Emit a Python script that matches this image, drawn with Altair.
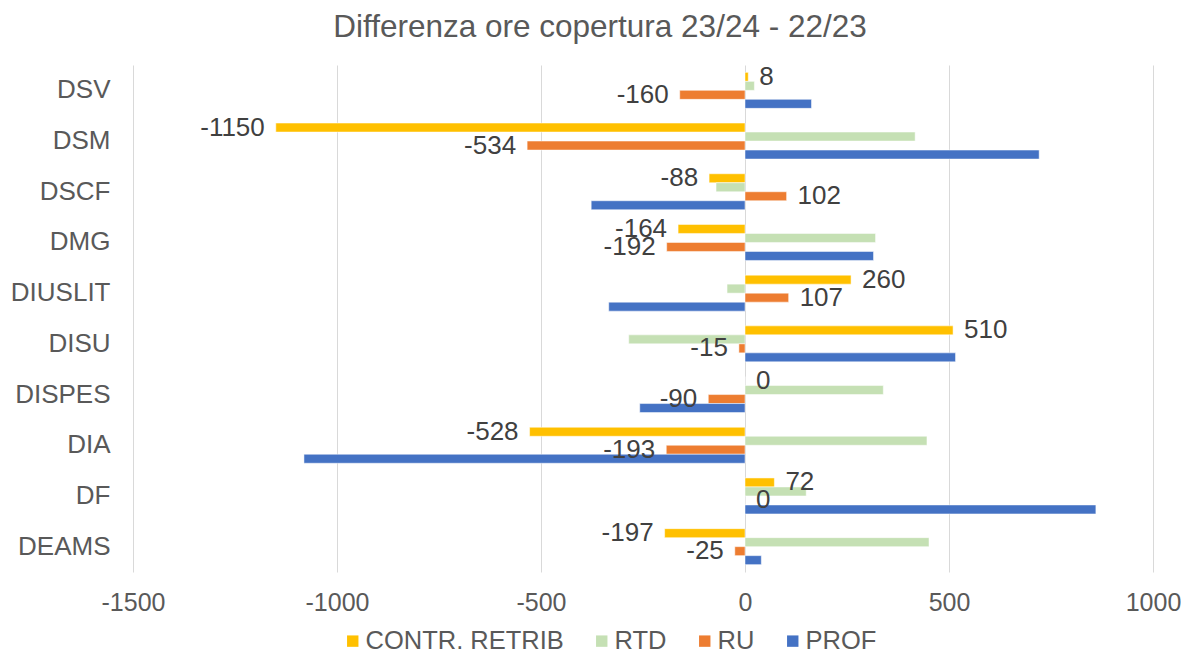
import altair as alt
import pandas as pd

categories = ["DSV", "DSM", "DSCF", "DMG", "DIUSLIT", "DISU", "DISPES", "DIA", "DF", "DEAMS"]
series = ["CONTR. RETRIB", "RTD", "RU", "PROF"]
colors = ["#FFC000", "#C5E0B4", "#ED7D31", "#4472C4"]

contr = [8, -1150, -88, -164, 260, 510, 0, -528, 72, -197]
rtd = [23, 417, -71, 320, -44, -285, 339, 446, 150, 451]
ru = [-160, -534, 102, -192, 107, -15, -90, -193, 0, -25]
prof = [163, 721, -377, 315, -334, 516, -258, -1081, 860, 40]

labelled = ["CONTR. RETRIB", "RU"]
x_ticks = [-1500, -1000, -500, 0, 500, 1000]

rows = []
for s, vals in zip(series, [contr, rtd, ru, prof]):
    for c, v in zip(categories, vals):
        rows.append({"cat": c, "series": s, "value": v, "label": str(v)})
df = pd.DataFrame(rows)

font = "Liberation Sans"
grey = "#595959"

y_enc = alt.Y("cat:N", sort=categories, title=None,
              scale=alt.Scale(paddingInner=0.29, paddingOuter=0.145),
              axis=alt.Axis(domain=False, ticks=False, labelFontSize=26, labelColor=grey,
                            labelFont=font, labelPadding=23, grid=False))
yoff_enc = alt.YOffset("series:N", sort=series, scale=alt.Scale(domain=series, paddingInner=0))
x_enc = alt.X("value:Q", title=None,
              scale=alt.Scale(domain=[-1500, 1000], nice=False, zero=False),
              axis=alt.Axis(values=x_ticks, domain=False, ticks=False, grid=True,
                            gridColor="#D9D9D9", gridWidth=1, labelFontSize=25,
                            labelColor=grey, labelFont=font, labelPadding=18,
                            labelFlush=False, labelExpr="'' + datum.value"))

base = alt.Chart(df)

bars = base.mark_bar(stroke="white", strokeWidth=0.5).encode(
    x=x_enc,
    y=y_enc,
    yOffset=yoff_enc,
    color=alt.Color("series:N", sort=series,
                    scale=alt.Scale(domain=series, range=colors),
                    legend=alt.Legend(title=None, orient="none", direction="horizontal",
                                      legendX=207, legendY=563, symbolType="square",
                                      symbolSize=130, symbolStrokeWidth=0,
                                      labelFontSize=25.5, labelColor=grey, labelFont=font,
                                      labelOffset=0, columnPadding=25, labelLimit=400)),
)

lab = base.transform_filter(
    alt.FieldOneOfPredicate(field="series", oneOf=labelled)
)

pos_text = lab.transform_filter(alt.datum.value >= 0).mark_text(
    align="left", baseline="middle", dx=11, fontSize=26, color="#404040", font=font
).encode(x="value:Q", y=alt.Y("cat:N", sort=categories), yOffset=yoff_enc, text="label:N")

neg_text = lab.transform_filter(alt.datum.value < 0).mark_text(
    align="right", baseline="middle", dx=-11, fontSize=26, color="#404040", font=font
).encode(x="value:Q", y=alt.Y("cat:N", sort=categories), yOffset=yoff_enc, text="label:N")

chart = alt.layer(bars, pos_text, neg_text).properties(
    width=1020,
    height=507,
    title=alt.Title("Differenza ore copertura 23/24 - 22/23", fontSize=31.5, color=grey,
                    font=font, fontWeight="normal", anchor="middle", dx=-43, offset=20),
    autosize=alt.AutoSizeParams(type="none"),
    padding={"left": 125, "top": 57, "right": 28, "bottom": 81},
).configure_view(stroke=None)

chart.save("out.html", embed_options={"renderer": "svg", "actions": False})
